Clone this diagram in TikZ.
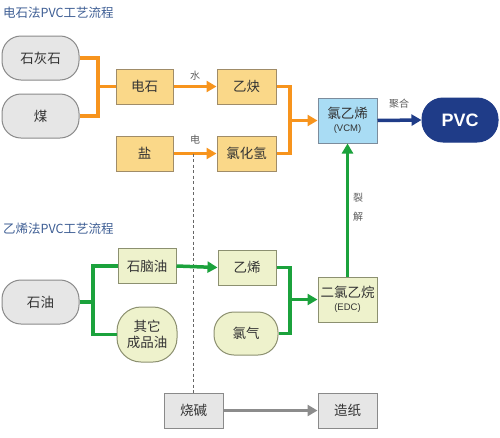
\documentclass[tikz,border=0pt]{standalone}
\usepackage{fontspec}
\setmainfont{Noto Sans CJK SC}
\newfontfamily\latinsans{Liberation Sans}
\usetikzlibrary{arrows.meta}
\definecolor{orangeline}{HTML}{F7941D}
\definecolor{orangefill}{HTML}{FAD889}
\definecolor{orangeborder}{HTML}{A08C68}
\definecolor{grayfill}{HTML}{E6E6E6}
\definecolor{grayborder}{HTML}{8A8A8A}
\definecolor{greenline}{HTML}{1BA23C}
\definecolor{greenfill}{HTML}{EEF2CC}
\definecolor{greenborder}{HTML}{8C9070}
\definecolor{bluefill}{HTML}{A9DCF4}
\definecolor{blueborder}{HTML}{7C8C9C}
\definecolor{navy}{HTML}{1F3C88}
\definecolor{titleblue}{HTML}{3F5F95}
\definecolor{txt}{HTML}{333333}
\definecolor{grayline}{HTML}{8C8C8C}
\begin{document}
\begin{tikzpicture}[x=1pt,y=-1pt,
  base/.style={draw, line width=1pt, inner sep=0pt, text=txt, font=\fontsize{13.5}{15.5}\selectfont, align=center},
  orangebox/.style={base, fill=orangefill, draw=orangeborder, minimum width=57pt, minimum height=35pt},
  graystad/.style={base, fill=grayfill, draw=grayborder, minimum width=77pt, minimum height=44pt, rounded corners=19pt},
  graybox/.style={base, fill=grayfill, draw=grayborder, minimum width=59pt, minimum height=35pt},
  greenbox/.style={base, fill=greenfill, draw=greenborder, minimum width=58pt, minimum height=35pt},
  greenstad/.style={base, fill=greenfill, draw=greenborder, rounded corners=20pt},
  bluebox/.style={base, fill=bluefill, draw=blueborder, minimum width=59pt, minimum height=45pt},
  title/.style={text=titleblue, font=\fontsize{12.5}{14}\selectfont, anchor=west, inner sep=0pt},
  lab/.style={text=txt!80, font=\fontsize{10}{11}\selectfont, inner sep=0pt},
  arr/.style={line width=3.5pt, -{Triangle[length=10pt,width=11pt]}},
  ln/.style={line width=3.5pt}
]
\useasboundingbox (0,0) rectangle (500,437);
\fill[white] (0,0) rectangle (500,437);

\node[title] (t1) at (3,13) {电石法PVC工艺流程};
\node[title] (t2) at (3,229) {乙烯法PVC工艺流程};

% top process
\node[graystad] (shihui) at (40.5,58) {石灰石};
\node[graystad] (mei) at (40.5,116) {煤};
\node[orangebox] (dianshi) at (144.5,86.5) {电石};
\node[orangebox, minimum width=59pt] (yique) at (246.5,86.5) {乙炔};
\node[orangebox] (yan) at (144.5,153.5) {盐};
\node[orangebox, minimum width=59pt] (hcl) at (246.5,153.5) {氯化氢};
\node[bluebox] (vcm) at (347.5,120.5) {氯乙烯\\[-2pt]{\latinsans\fontsize{9.5}{10}\selectfont (VCM)}};
\node[base, fill=navy, draw=navy, text=white, minimum width=76pt, minimum height=44pt, rounded corners=21pt, font=\latinsans\bfseries\fontsize{18}{20}\selectfont] (pvc) at (460,120) {PVC};

% bottom process
\node[graystad] (shiyou) at (40.5,302) {石油};
\node[greenbox] (shinao) at (147,266) {石脑油};
\node[greenstad, minimum width=60pt, minimum height=55pt, rounded corners=24pt] (qita) at (147,334.5) {其它\\成品油};
\node[greenbox] (yixi) at (247,267.5) {乙烯};
\node[greenstad, minimum width=64pt, minimum height=43pt] (lvqi) at (246,333.5) {氯气};
\node[greenbox, minimum width=59pt, minimum height=45pt] (edc) at (347.5,299.5) {二氯乙烷\\[-2pt]{\latinsans\fontsize{9.5}{10}\selectfont (EDC)}};
\node[graybox] (shaojian) at (193.5,410.5) {烧碱};
\node[graybox] (zaozhi) at (347.5,410.5) {造纸};

% labels
\node[lab] (lshui) at (195,76) {水};
\node[lab] (ldian) at (195,140) {电};
\node[lab] (ljuhe) at (399,104) {聚合};
\node[lab] (llie) at (358,198) {裂};
\node[lab] (ljie) at (358,217) {解};

% junctions
\coordinate (j1) at (98,86.5);
\coordinate (j2) at (290,120.5);
\coordinate (j3) at (93,302);
\coordinate (j4) at (290,299.5);

% orange connectors
\draw[ln, orangeline] (shihui.east) -| (j1) |- (mei.east);
\draw[ln, orangeline] (j1) -- (dianshi.west);
\draw[arr, orangeline] (dianshi.east) -- (yique.west);
\draw[arr, orangeline] (yan.east) -- (hcl.west);
\draw[ln, orangeline] (yique.east) -| (j2) |- (hcl.east);
\draw[arr, orangeline] (j2) -- (vcm.west);

% dashed line
\draw[line width=1pt, txt!75, dash pattern=on 3pt off 2.5pt] (shaojian.north |- yan.east) -- (shaojian.north);

% blue
\draw[arr, navy] (vcm.east) -- (pvc.west);

% green
\draw[ln, greenline] (shiyou.east) -- (j3);
\draw[ln, greenline] (shinao.west) -| (j3) |- (qita.west);
\draw[arr, greenline] (shinao.east) -- (yixi.west);
\draw[ln, greenline] (yixi.east) -| (j4) |- (lvqi.east);
\draw[arr, greenline] (j4) -- (edc.west);
\draw[arr, greenline] (edc.north) -- (vcm.south);

% gray
\draw[arr, grayline, line width=3pt] (shaojian.east) -- (zaozhi.west);
\end{tikzpicture}
\end{document}
